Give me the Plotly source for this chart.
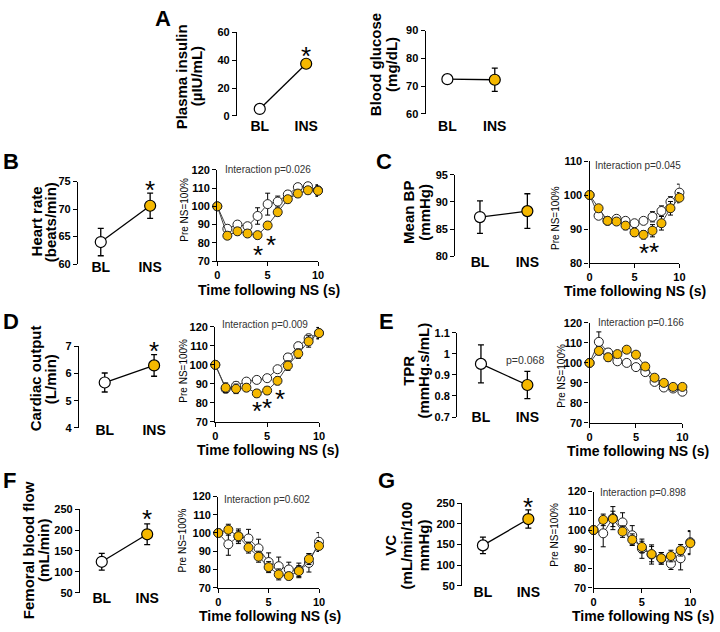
import plotly.graph_objects as go

# ---------------- data ----------------
groups = ["BL", "INS"]
time_s = [0, 1, 2, 3, 4, 5, 6, 7, 8, 9, 10]

insulin = [5.0, 37.5]
insulin_err = [0.8, 1.5]
glucose = [72.5, 72.3]
glucose_err = [0.8, 4.2]
heart_rate = [64.0, 70.6]
heart_rate_err = [2.5, 2.3]
mean_bp = [87.2, 88.3]
mean_bp_err = [3.0, 3.2]
cardiac_output = [5.67, 6.30]
cardiac_output_err = [0.35, 0.40]
tpr = [0.952, 0.852]
tpr_err = [0.09, 0.065]
femoral_flow = [124, 190]
femoral_flow_err = [20, 25]
vc = [148, 212]
vc_err = [20, 22]

hr_bl = [100, 87.7, 90.0, 89.1, 94.7, 101.2, 102.6, 106.5, 110.5, 111.0, 108.8]
hr_ins = [100, 83.9, 86.3, 85.1, 84.2, 89.5, 96.8, 103.9, 107.0, 108.8, 108.5]
hr_bl_err = [0, 2, 2, 2, 4.5, 6, 3, 2, 2, 2, 3]
hr_ins_err = [0, 2, 2, 2, 2, 2, 2, 2, 2, 2, 3]

mbp_bl = [100, 93.9, 92.4, 93.0, 92.4, 91.7, 92.4, 93.6, 95.3, 98.0, 100.7]
mbp_ins = [100, 96.1, 92.4, 92.2, 91.0, 89.0, 88.3, 89.5, 91.7, 96.1, 99.2]
mbp_bl_err = [0, 1, 1, 1, 1, 1, 1, 1.5, 1.5, 1.5, 2.5]
mbp_ins_err = [0, 1, 1, 1, 1.2, 1.2, 1.2, 1.8, 2, 2, 1.5]

co_bl = [100, 87.4, 89.0, 91.2, 92.1, 93.0, 97.7, 103.9, 109.8, 114.0, 116.7]
co_ins = [100, 88.0, 87.4, 88.0, 85.0, 86.5, 91.6, 99.6, 105.9, 112.3, 116.7]
co_bl_err = [0, 2, 2, 1.5, 1.5, 1.5, 1.5, 2, 2, 2, 3]
co_ins_err = [0, 2.5, 2.5, 2, 2, 2, 2, 2.5, 2.5, 3, 3]

tpr_bl = [100, 110.5, 105.2, 100.8, 100.0, 97.9, 95.4, 90.5, 87.7, 87.2, 85.6]
tpr_ins = [100, 106.0, 102.8, 104.4, 106.6, 104.1, 98.2, 92.6, 90.0, 88.0, 88.0]
tpr_bl_err = [0, 5, 2, 1.5, 1, 1, 1.5, 1.5, 1.5, 1.5, 1.5]
tpr_ins_err = [0, 2, 2, 1.5, 1.5, 1.5, 1.5, 1.5, 1.5, 1.5, 1.5]

fbf_bl = [100, 93.8, 98.2, 97.0, 91.6, 84.1, 81.8, 80.0, 79.5, 83.6, 95.2]
fbf_ins = [100, 101.8, 98.2, 92.0, 87.0, 81.3, 77.3, 76.4, 79.1, 85.7, 92.9]
fbf_bl_err = [0, 6, 4, 5, 5, 5, 5, 4, 4, 5, 5]
fbf_ins_err = [0, 3, 3, 3, 3, 3, 3, 2, 3, 3, 3]

vc_bl = [100, 98.3, 106.2, 104.0, 97.3, 90.3, 87.3, 85.3, 82.5, 85.3, 93.7]
vc_ins = [100, 105.3, 105.8, 99.2, 95.0, 91.2, 87.5, 85.3, 86.5, 89.5, 93.2]
vc_bl_err = [0, 7, 6, 5, 5, 5, 5, 3, 3, 6, 6]
vc_ins_err = [0, 3, 4, 3, 3, 3, 4, 3, 3, 3, 6]

interaction_p = {"B": "0.026", "C": "0.045", "D": "0.009", "E": "0.166", "F": "0.602", "G": "0.898"}

# ---------------- styling / layout helpers ----------------
W, H = 720, 632
FONT = "Liberation Sans, Arial, sans-serif"
ORANGE = "#F5B800"


def fx(p):
    return p / W


def fy(p):
    return 1 - p / H


fig = go.Figure()
lay = {}
ann = []
counter = [0]


def names():
    counter[0] += 1
    i = counter[0]
    s = "" if i == 1 else str(i)
    return "x" + s, "y" + s, "xaxis" + s, "yaxis" + s


AX = dict(showgrid=False, zeroline=False, linecolor="black", linewidth=1.3,
          tickcolor="black", tickwidth=1.3, ticklen=4)
TICKFONT = dict(family=FONT, size=11, color="black", weight="bold")


def text(x, y, s, size, bold=False, angle=0, xanchor="center", color="black"):
    ann.append(dict(x=fx(x), y=fy(y), xref="paper", yref="paper", text=s,
                    showarrow=False, textangle=angle, xanchor=xanchor, yanchor="middle",
                    font=dict(family=FONT, size=size, color=color,
                              weight="bold" if bold else "normal")))


def star(xa, ya, x, y, shift=0.0):
    ann.append(dict(x=x, y=y, xref=xa, yref=ya, text="*", showarrow=False,
                    xanchor="center", yanchor="middle", yshift=-6 + shift,
                    font=dict(family=FONT, size=26, color="black")))


def left_chart(mean, err, g, star_y=None, tickvals=None, ticktext=None):
    xa, ya, xn, yn = names()
    unit = g["ins"] - g["bl"]
    r0 = -(g["bl"] - g["ax"]) / unit
    r1 = 1 + (g["right"] - g["ins"]) / unit
    fig.add_trace(go.Scatter(
        x=groups, y=mean, xaxis=xa, yaxis=ya, mode="lines+markers",
        line=dict(color="black", width=1.3),
        marker=dict(size=11, color=["white", ORANGE], line=dict(color="black", width=1.2)),
        error_y=dict(type="data", array=err, color="black", thickness=1.3, width=3),
        cliponaxis=False, showlegend=False, hoverinfo="skip"))
    lay[xn] = dict(domain=[fx(g["ax"]), fx(g["right"])], range=[r0, r1], type="category",
                   anchor="free", position=fy(g["lab"] - 10), showline=False, showgrid=False,
                   zeroline=False, ticks="", ticklen=0,
                   tickfont=dict(family=FONT, size=14, color="black", weight="bold"))
    ydict = dict(domain=[fy(g["ylo"]), fy(g["yhi"])], range=g["yr"], anchor=xa,
                 showline=True, ticks="outside", tickfont=TICKFONT, **AX)
    if tickvals is not None:
        ydict.update(tickvals=tickvals, ticktext=ticktext)
    else:
        ydict.update(tick0=g["yr"][0], dtick=g["dt"])
    lay[yn] = ydict
    if star_y is not None:
        # keep the annotation anchor inside the axis range; add the rest as a pixel shift
        top = g["yr"][1]
        px_per_unit = (g["ylo"] - g["yhi"]) / (g["yr"][1] - g["yr"][0])
        if star_y > top:
            star(xa, ya, 1, top, (star_y - top) * px_per_unit)
        else:
            star(xa, ya, 1, star_y)


def time_chart(bl, ins, bl_err, ins_err, g, stars=()):
    xa, ya, xn, yn = names()
    for series, err, color in ((bl, bl_err, "white"), (ins, ins_err, ORANGE)):
        fig.add_trace(go.Scatter(
            x=time_s, y=series, xaxis=xa, yaxis=ya, mode="lines+markers",
            line=dict(color="#444", width=1),
            marker=dict(size=9, color=color, line=dict(color="#222", width=1)),
            error_y=dict(type="data", array=err, color="black", thickness=1, width=2.5),
            cliponaxis=False, showlegend=False, hoverinfo="skip"))
    lay[xn] = dict(domain=[fx(g["ax"]), fx(g["x10"])], range=[0, 10], tickvals=[0, 5, 10],
                   anchor=ya, showline=True, ticks="outside", tickfont=TICKFONT, **AX)
    lay[yn] = dict(domain=[fy(g["ylo"]), fy(g["yhi"])], range=g["yr"], tick0=g["yr"][0], dtick=10,
                   anchor=xa, showline=True, ticks="outside", tickfont=TICKFONT, **AX)
    for sx, sy in stars:
        star(xa, ya, sx, sy)


# ---------------- panel A ----------------
left_chart(insulin, insulin_err, dict(ax=237, bl=260, ins=307, right=330, ylo=112, yhi=27,
                                      yr=[0, 60], dt=20, lab=122), star_y=47.3)
left_chart(glucose, glucose_err, dict(ax=428, bl=450, ins=498, right=520, ylo=110, yhi=25,
                                      yr=[60, 90], dt=10, lab=122))
# ---------------- panel B ----------------
left_chart(heart_rate, heart_rate_err, dict(ax=76, bl=99, ins=149, right=170, ylo=263, yhi=179,
                                            yr=[60, 75], dt=5, lab=266), star_y=74.5)
time_chart(hr_bl, hr_ins, hr_bl_err, hr_ins_err,
           dict(ax=217, x10=319, ylo=260, yhi=167, yr=[70, 120]), stars=[(4.0, 76.5), (5.3, 82)])
# ---------------- panel C ----------------
left_chart(mean_bp, mean_bp_err, dict(ax=458, bl=483, ins=531, right=552, ylo=255, yhi=172,
                                      yr=[80, 95], dt=5, lab=261))
time_chart(mbp_bl, mbp_ins, mbp_bl_err, mbp_ins_err,
           dict(ax=594, x10=685, ylo=262, yhi=158, yr=[80, 110]), stars=[(6.1, 84.7), (7.2, 84.9)])
# ---------------- panel D ----------------
left_chart(cardiac_output, cardiac_output_err, dict(ax=77, bl=103, ins=153, right=172, ylo=430,
                                                    yhi=347, yr=[4, 7], dt=1, lab=432), star_y=7.04)
time_chart(co_bl, co_ins, co_bl_err, co_ins_err,
           dict(ax=215, x10=320, ylo=424, yhi=327, yr=[70, 120]),
           stars=[(4.0, 79), (5.0, 80.7), (6.2, 85)])
# ---------------- panel E ----------------
left_chart(tpr, tpr_err, dict(ax=460, bl=484, ins=531, right=552, ylo=419, yhi=333,
                              yr=[0.7, 1.1], dt=0.1, lab=419),
           tickvals=[0.7, 0.8, 0.9, 1.0, 1.1], ticktext=["0.7", "0.8", "0.9", "1", "1.1"])
time_chart(tpr_bl, tpr_ins, tpr_bl_err, tpr_ins_err,
           dict(ax=594, x10=688, ylo=425, yhi=323, yr=[70, 120]))
# ---------------- panel F ----------------
left_chart(femoral_flow, femoral_flow_err, dict(ax=78, bl=100, ins=146, right=170, ylo=598,
                                                yhi=513, yr=[50, 250], dt=50, lab=603), star_y=240.6)
time_chart(fbf_bl, fbf_ins, fbf_bl_err, fbf_ins_err,
           dict(ax=218, x10=320, ylo=593, yhi=500, yr=[70, 120]))
# ---------------- panel G ----------------
left_chart(vc, vc_err, dict(ax=465, bl=486, ins=532, right=552, ylo=591, yhi=507,
                            yr=[50, 250], dt=50, lab=597), star_y=254.8)
time_chart(vc_bl, vc_ins, vc_bl_err, vc_ins_err,
           dict(ax=598, x10=696, ylo=593, yhi=495, yr=[70, 120]))

# ---------------- text ----------------
for letter, x, y in (("A", 162, 13), ("B", 8, 158), ("C", 386, 158), ("D", 8, 322),
                     ("E", 388, 322), ("F", 7, 484), ("G", 388, 484)):
    text(x, y, letter, 22, bold=True)

for s, x, y in (("Plasma insulin", 181, 72), ("(µIU/mL)", 196, 72),
                ("Blood glucose", 378, 60), ("(mg/dL)", 394, 60),
                ("Heart rate", 34, 220), ("(beats/min)", 48, 220),
                ("Mean BP", 410, 210), ("(mmHg)", 426, 210),
                ("Cardiac output", 33, 380), ("(L/min)", 48, 380),
                ("TPR", 411, 372), ("(mmHg.s/mL)", 426, 372),
                ("Femoral blood flow", 26, 555), ("(mL/min)", 41, 555),
                ("VC", 392, 550), ("(mL/min/100", 409, 550), ("mmHg)", 426, 550)):
    text(x, y, s, 15, bold=True, angle=-90)

for x, y in ((183, 208), (560, 216), (183, 372), (566, 377), (182, 545), (559, 539)):
    text(x, y, "Pre NS=100%", 10, angle=-90)

for x, y in ((269, 289), (640, 291), (268, 453), (643, 454), (270, 622), (648, 622)):
    text(x, y, "Time following NS (s)", 14, bold=True)

for key, x, y in (("B", 223, 167), ("C", 597, 163), ("D", 220, 325), ("E", 600, 323),
                  ("F", 222, 503), ("G", 603, 496)):
    text(x, y, "Interaction p=" + interaction_p[key], 10, xanchor="left", color="#333")

text(529, 361, "p=0.068", 10.5, color="#333")

fig.update_layout(width=W, height=H, margin=dict(l=0, r=0, t=0, b=0),
                  paper_bgcolor="white", plot_bgcolor="white",
                  font=dict(family=FONT, color="black"),
                  annotations=ann, showlegend=False, **lay)

fig.write_html("out.html", config={"displayModeBar": False},
               post_script="document.body.style.margin='0px';")
